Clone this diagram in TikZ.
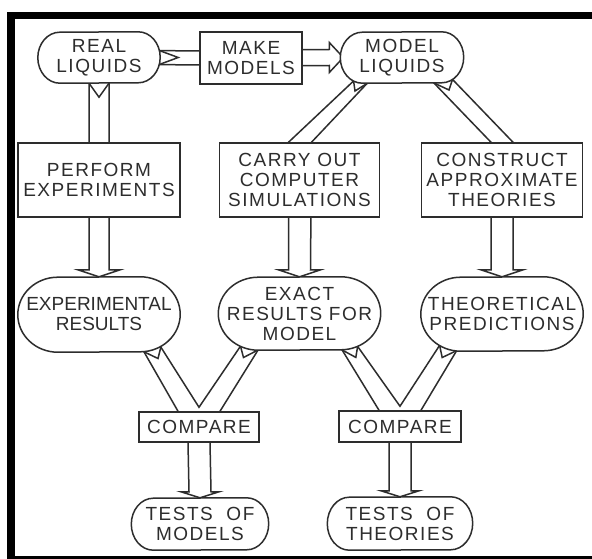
\documentclass[tikz,border=0pt]{standalone}
\usepackage{fontspec}
\setmainfont{Liberation Sans}[LetterSpace=8.0]
\usetikzlibrary{calc}
\pgfdeclarelayer{arrows}
\pgfdeclarelayer{shapes}
\pgfsetlayers{arrows,shapes,main}
\definecolor{ink}{RGB}{45,45,45}
% oval outline round a named node: #1 name, #2 cap x radius, #3 half height
\newcommand{\ovaloutline}[3]{%
  \draw[shp] ($(#1.north east)+(-#2,0)$)
    arc[start angle=90,end angle=-90,x radius=#2pt,y radius=#3pt]
    -- ($(#1.south west)+(#2,0)$)
    arc[start angle=270,end angle=90,x radius=#2pt,y radius=#3pt] -- cycle;}
\begin{document}
\begin{tikzpicture}[x=1pt,y=-1pt,
  lbl/.style={text=ink, font=\fontsize{19}{20}\selectfont, align=center, inner sep=0pt},
  box/.style={lbl, draw=ink, line width=1.5pt, fill=white},
  arr/.style={draw=ink, line width=1.5pt, line join=miter},
  shp/.style={draw=ink, line width=1.5pt, fill=white}]
\useasboundingbox (0,0) rectangle (592,559);
\begin{pgfonlayer}{arrows}
  \fill[white] (0,0) rectangle (592,559);
\end{pgfonlayer}
% frame
\fill[black] (7,12) rectangle (592,19);
\fill[black] (7,12) rectangle (15,559);
\fill[black] (7,556) rectangle (592,559);

% nodes
\node[lbl, minimum width=122pt, minimum height=51pt] (rl) at (99,57.5) {REAL\\LIQUIDS};
\node[box, minimum width=102pt, minimum height=52pt] (mm) at (251,58) {MAKE\\MODELS};
\node[lbl, minimum width=123pt, minimum height=51pt] (ml) at (402,57.5) {MODEL\\LIQUIDS};
\node[box, minimum width=162pt, minimum height=74pt] (pe) at (99,180) {PERFORM\\EXPERIMENTS};
\node[box, minimum width=160pt, minimum height=74pt] (cs) at (299.5,180) {CARRY OUT\\COMPUTER\\SIMULATIONS};
\node[box, minimum width=161pt, minimum height=74pt] (ca) at (502,180) {CONSTRUCT\\APPROXIMATE\\THEORIES};
\node[lbl, font=\fontsize{19}{20}\selectfont\addfontfeature{LetterSpace=0.0},
      minimum width=162pt, minimum height=75pt] (er) at (99,314.5) {EXPERIMENTAL\\RESULTS};
\node[lbl, minimum width=162pt, minimum height=73pt] (ex) at (299.5,313.5) {EXACT\\RESULTS FOR\\MODEL};
\node[lbl, minimum width=162pt, minimum height=74pt] (tp) at (502,314) {THEORETICAL\\PREDICTIONS};
\node[box, minimum width=120pt, minimum height=30pt] (c1) at (199,427) {COMPARE};
\node[box, minimum width=122pt, minimum height=31pt] (c2) at (400,426.5) {COMPARE};
\node[lbl, minimum width=137pt, minimum height=52pt] (tm) at (200,524) {TESTS\ \ OF\\MODELS};
\node[lbl, minimum width=145pt, minimum height=53pt] (tt) at (400,523.5) {TESTS\ \ OF\\THEORIES};

% oval outlines
\begin{pgfonlayer}{shapes}
  \ovaloutline{rl}{22}{25.5}
  \ovaloutline{ml}{22}{25.5}
  \ovaloutline{er}{40}{37.5}
  \ovaloutline{ex}{40}{36.5}
  \ovaloutline{tp}{40}{37}
  \ovaloutline{tm}{22}{26}
  \ovaloutline{tt}{22}{26.5}
\end{pgfonlayer}

% block arrows
\begin{pgfonlayer}{arrows}
  % real liquids -> perform experiments -> experimental results
  \draw[arr] ($(rl.center)+(-10,0)$) -- ($(er.north)+(-10,-7)$) -- ($(er.north)+(-21,-7)$)
    -- (er.north) -- ($(er.north)+(21,-7)$) -- ($(er.north)+(10,-7)$) -- ($(rl.center)+(10,0)$);
  \draw[arr] ($(rl.south)+(-10,0)$) -- ($(rl.south)+(0,14)$) -- ($(rl.south)+(10,0)$);
  % real liquids -> make models
  \draw[arr] ($(rl.center)+(0,-7)$) -- ($(mm.center)+(0,-7)$);
  \draw[arr] ($(rl.center)+(0,7)$) -- ($(mm.center)+(0,7)$);
  \draw[arr] ($(rl.east)+(-0.9,-7)$) -- ($(rl.east)+(18,0)$) -- ($(rl.east)+(-0.9,7)$);
  % make models -> model liquids
  \draw[arr] ($(mm.center)+(0,-8)$) -- ($(ml.west)+(-11,-8)$) -- ($(ml.west)+(-11,-15)$)
    -- ($(ml.west)+(3,0)$) -- ($(ml.west)+(-11,15)$) -- ($(ml.west)+(-11,8)$) -- ($(mm.center)+(0,8)$);
  % model liquids -> carry out -> exact results
  \draw[arr] ($(ml.center)+(-32,8)$) -- ($(cs.north)+(-11,0)$) -- ($(ex.north)+(-11,-7)$)
    -- ($(ex.north)+(-21,-7)$) -- (ex.north) -- ($(ex.north)+(21,-7)$) -- ($(ex.north)+(11,-7)$)
    -- ($(cs.north)+(12,0)$) -- ($(ml.center)+(-18,8)$);
  \draw[arr] ($(ml.center)+(-48.4,23.5)$) -- ($(ml.center)+(-47,33.5)$) -- ($(ml.center)+(-34.3,25.5)$);
  % model liquids -> construct -> theoretical predictions
  \draw[arr] ($(ml.center)+(14.6,7.5)$) -- ($(ca.north)+(-11,0)$) -- ($(tp.north)+(-11,-7)$)
    -- ($(tp.north)+(-21,-7)$) -- (tp.north) -- ($(tp.north)+(21,-7)$) -- ($(tp.north)+(11,-7)$)
    -- ($(ca.north)+(11,0)$) -- ($(ml.center)+(36.6,7.5)$);
  \draw[arr] ($(ml.center)+(32,25.5)$) -- ($(ml.center)+(47,32.5)$) -- ($(ml.center)+(50.4,22.2)$);
  % experimental + exact -> compare -> tests of models
  \draw[arr] ($(er.center)+(32.5,15.5)$) -- ($(c1.north)+(-21,0)$) -- ($(c1.south)+(-11,0)$)
    -- ($(tm.north)+(-11,-6)$) -- ($(tm.north)+(-19,-6)$) -- (tm.north) -- ($(tm.north)+(19,-6)$)
    -- ($(tm.north)+(11,-6)$) -- ($(c1.south)+(11,0)$) -- ($(c1.north)+(21,0)$) -- ($(ex.center)+(-29,16.5)$);
  \draw[arr] ($(er.center)+(51,15.5)$) -- ($(c1.north)+(0,-4)$) -- ($(ex.center)+(-48,16.5)$);
  \draw[arr] ($(er.center)+(45,37.3)$) -- ($(er.center)+(59,44)$) -- ($(er.center)+(62,32)$);
  \draw[arr] ($(ex.center)+(-59,32.7)$) -- ($(ex.center)+(-56,44)$) -- ($(ex.center)+(-41.5,36.5)$);
  % exact + theoretical -> compare -> tests of theories
  \draw[arr] ($(ex.center)+(30.4,16.5)$) -- ($(c2.north)+(-21,0)$) -- ($(c2.south)+(-11,0)$)
    -- ($(tt.north)+(-11,-6)$) -- ($(tt.north)+(-19,-6)$) -- (tt.north) -- ($(tt.north)+(19,-6)$)
    -- ($(tt.north)+(11,-6)$) -- ($(c2.south)+(11,0)$) -- ($(c2.north)+(21,0)$) -- ($(tp.center)+(-33,16)$);
  \draw[arr] ($(ex.center)+(46.5,16.5)$) -- ($(c2.north)+(0,-4)$) -- ($(tp.center)+(-52.4,16)$);
  \draw[arr] ($(ex.center)+(42.5,36.4)$) -- ($(ex.center)+(56.3,43.9)$) -- ($(ex.center)+(58.1,33.1)$);
  \draw[arr] ($(tp.center)+(-62.4,31.4)$) -- ($(tp.center)+(-59.8,43.5)$) -- ($(tp.center)+(-45.7,36.8)$);
\end{pgfonlayer}
\end{tikzpicture}
\end{document}
